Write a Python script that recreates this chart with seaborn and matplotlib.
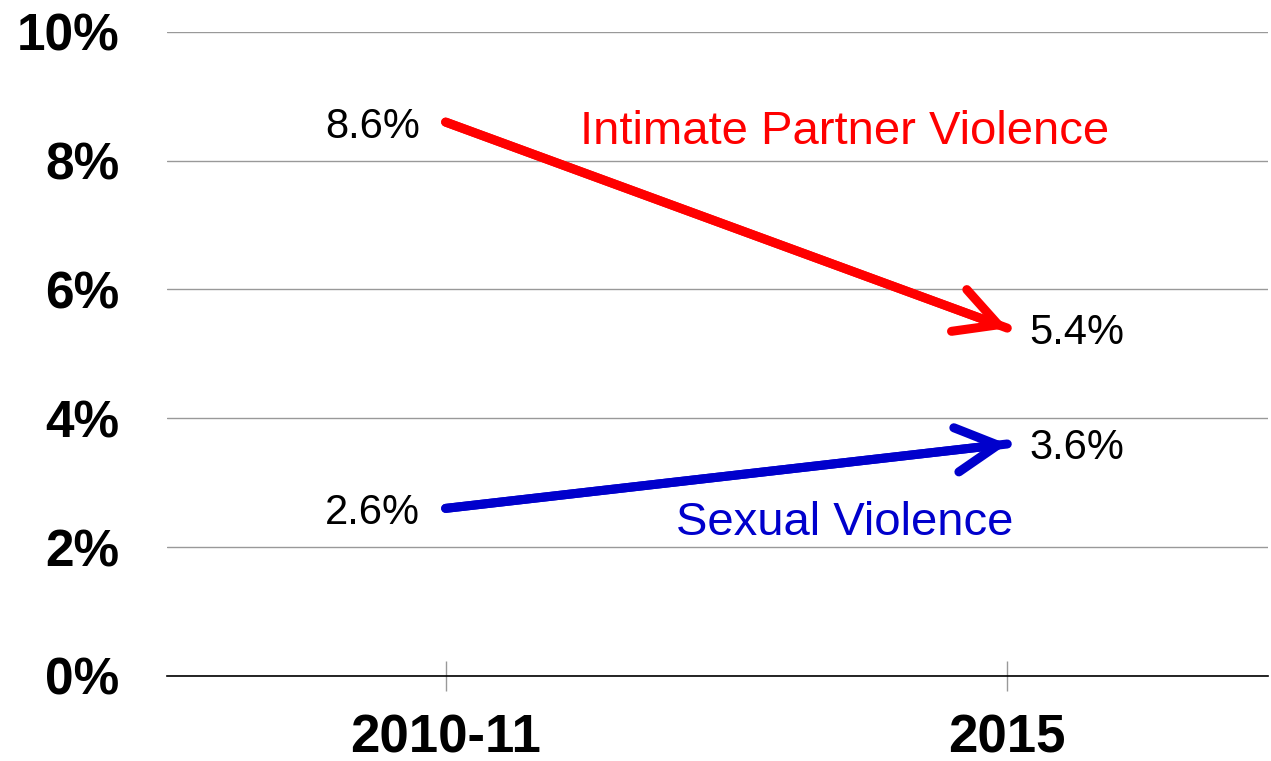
import matplotlib
matplotlib.use("Agg")
import matplotlib.pyplot as plt
import seaborn as sns
import pandas as pd

# Data
years = ["2010-11", "2015"]
ipv = [8.6, 5.4]
sv = [2.6, 3.6]
y_ticks = [0, 2, 4, 6, 8, 10]

sns.set_style("white")
plt.rcParams["font.family"] = ["Liberation Sans", "DejaVu Sans"]
plt.rcParams["text.color"] = "black"
plt.rcParams["xtick.labelcolor"] = "black"
plt.rcParams["ytick.labelcolor"] = "black"

fig, ax = plt.subplots(figsize=(12.71, 7.61), dpi=100)
fig.subplots_adjust(left=0.131, right=0.998, top=0.958, bottom=0.112)

df = pd.DataFrame({
    "year": years * 2,
    "pos": [0, 1, 0, 1],
    "value": ipv + sv,
    "series": ["Intimate Partner Violence"] * 2 + ["Sexual Violence"] * 2,
})
palette = {"Intimate Partner Violence": "#ff0000", "Sexual Violence": "#0000cc"}

sns.lineplot(data=df, x="pos", y="value", hue="series", palette=palette,
             linewidth=6.5, legend=False, ax=ax, solid_capstyle="round")

# arrowheads and value labels
for vals, name in [(ipv, "Intimate Partner Violence"), (sv, "Sexual Violence")]:
    ax.annotate("", xy=(1, vals[1]), xytext=(0, vals[0]),
                arrowprops=dict(arrowstyle="->,head_length=3.0,head_width=1.6",
                                color=palette[name], lw=6.5, mutation_scale=10,
                                shrinkA=0, shrinkB=0, capstyle="round"))
    ax.text(-0.045, vals[0], f"{vals[0]:.1f}%", ha="right", va="center_baseline",
            fontsize=30, color="black")
    ax.text(1.04, vals[1], f"{vals[1]:.1f}%", ha="left", va="center_baseline",
            fontsize=30, color="black")

ax.text(0.71, 8.45, "Intimate Partner Violence", color="#ff0000",
        ha="center", va="center", fontsize=34)
ax.text(0.71, 2.37, "Sexual Violence", color="#0000cc",
        ha="center", va="center", fontsize=34)

ax.set_xlim(-0.497, 1.465)
ax.set_ylim(0, 10)
ax.set_xticks([0, 1])
ax.set_xticklabels(years, fontsize=38, fontweight="bold")
ax.set_yticks(y_ticks)
ax.set_yticklabels([f"{t}%" for t in y_ticks], fontsize=37, fontweight="bold")
ax.set_xlabel("")
ax.set_ylabel("")

ax.grid(axis="y", color="#999999", linewidth=1)
ax.grid(axis="x", visible=False)
for s in ["left", "right", "top"]:
    ax.spines[s].set_visible(False)
ax.spines["bottom"].set_color("black")
ax.spines["bottom"].set_linewidth(1.2)
ax.tick_params(axis="x", direction="inout", length=22, width=1, color="#999999",
               pad=16, bottom=True)
ax.tick_params(axis="y", length=0, pad=34)

fig.savefig("out.png", dpi=100)
